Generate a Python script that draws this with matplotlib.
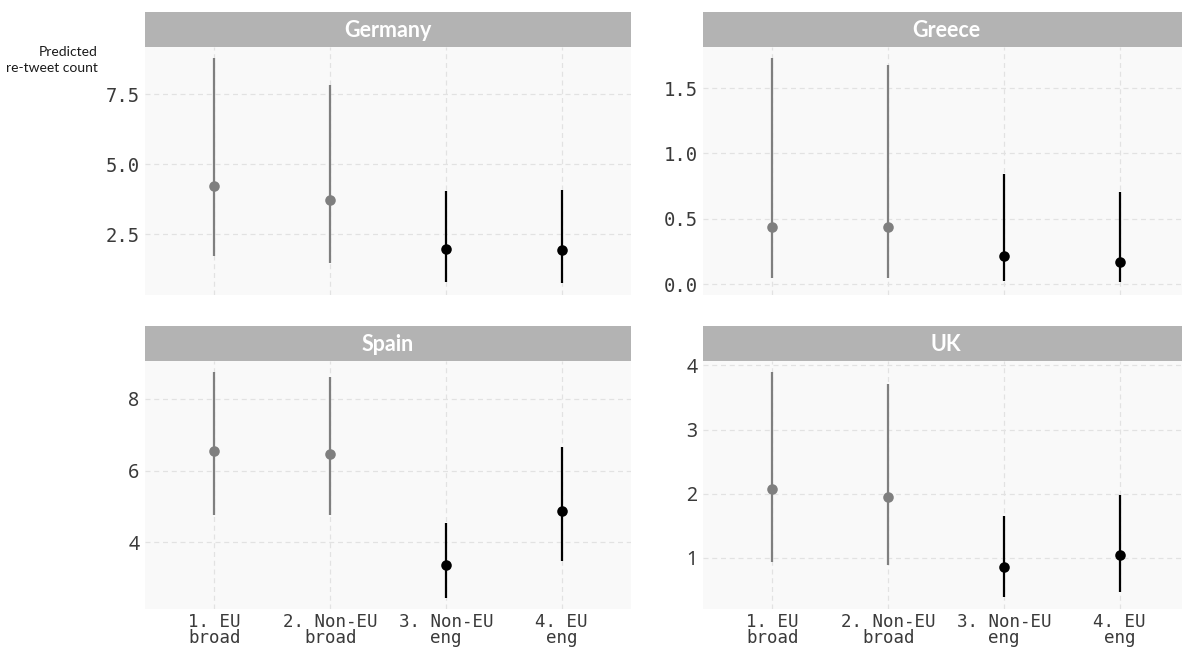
import matplotlib
matplotlib.use("Agg")
import matplotlib.pyplot as plt

# Message categories (x axis)
categories = ["1. EU\nbroad", "2. Non-EU\nbroad", "3. Non-EU\neng", "4. EU\neng"]
cat_colors = ["#7f7f7f", "#7f7f7f", "#000000", "#000000"]

# Predicted re-tweet counts with confidence intervals per country
germany_est = [4.22, 3.71, 1.95, 1.92]
germany_lo = [1.72, 1.47, 0.78, 0.75]
germany_hi = [8.79, 7.82, 4.05, 4.07]

greece_est = [0.436, 0.436, 0.211, 0.165]
greece_lo = [0.046, 0.048, 0.020, 0.012]
greece_hi = [1.729, 1.673, 0.839, 0.704]

spain_est = [6.54, 6.47, 3.36, 4.88]
spain_lo = [4.77, 4.77, 2.45, 3.46]
spain_hi = [8.75, 8.61, 4.53, 6.65]

uk_est = [2.08, 1.95, 0.855, 1.04]
uk_lo = [0.93, 0.88, 0.387, 0.47]
uk_hi = [3.90, 3.71, 1.644, 1.98]

# Axis ticks per panel
germany_ticks = [2.5, 5.0, 7.5]
greece_ticks = [0.0, 0.5, 1.0, 1.5]
spain_ticks = [4, 6, 8]
uk_ticks = [1, 2, 3, 4]

W, H = 1182, 649
fig = plt.figure(figsize=(W / 100, H / 100), dpi=100)
fig.patch.set_facecolor("white")

MONO = "DejaVu Sans Mono"
SANS = "Noto Sans"


def px_axes(x0, y0, x1, y1):
    return fig.add_axes([x0 / W, 1 - y1 / H, (x1 - x0) / W, (y1 - y0) / H])


panels = [
    ("Germany", germany_est, germany_lo, germany_hi, germany_ticks, (0.32, 9.19), "{:.1f}", MONO, 13.6, 145, 631, 47, 295, False),
    ("Greece", greece_est, greece_lo, greece_hi, greece_ticks, (-0.084, 1.814), "{:.1f}", MONO, 13.6, 703, 1189, 47, 295, False),
    ("Spain", spain_est, spain_lo, spain_hi, spain_ticks, (2.13, 9.06), "{:d}", SANS, 14, 145, 631, 361, 609, True),
    ("UK", uk_est, uk_lo, uk_hi, uk_ticks, (0.20, 4.07), "{:d}", SANS, 14, 703, 1189, 361, 609, True),
]

xs = list(range(1, len(categories) + 1))

for (name, est, lo, hi, ticks, ylim, fmt, tfont, tsize,
     x0, x1, y0, y1, xlab) in panels:
    ax = px_axes(x0, y0, x1, y1)
    ax.set_facecolor("#f9f9f9")
    for s in ax.spines.values():
        s.set_visible(False)
    ax.set_xlim(0.4, 4.6)
    ax.set_ylim(*ylim)
    ax.set_axisbelow(True)
    ax.grid(True, color="#e2e2e2", linestyle=(0, (4, 3)), linewidth=0.9)
    ax.set_xticks(xs)
    ax.set_yticks(ticks)
    ax.set_yticklabels([fmt.format(t) for t in ticks], fontfamily=tfont,
                       fontsize=tsize, color="#3a3a3a")
    if xlab:
        ax.set_xticklabels(categories, fontfamily=MONO, fontsize=12.6,
                           color="#3a3a3a", linespacing=0.88)
    else:
        ax.set_xticklabels([])
    ax.tick_params(axis="y", length=0, pad=4)
    ax.tick_params(axis="x", length=0, pad=3)

    for x, e, l, h, c in zip(xs, est, lo, hi, cat_colors):
        ax.vlines(x, l, h, color=c, linewidth=1.6, zorder=3)
        ax.plot([x], [e], "o", color=c, markersize=7.6, zorder=4,
                markeredgewidth=0)

    # facet strip
    sax = px_axes(x0, y0 - 35, x1, y0)
    sax.set_facecolor("#b3b3b3")
    sax.set_xticks([])
    sax.set_yticks([])
    for s in sax.spines.values():
        s.set_visible(False)
    sax.text(0.5, 0.46, name, transform=sax.transAxes, ha="center",
             va="center", color="white", fontsize=15.5, fontweight="bold",
             fontfamily="Lato")

fig.text(98 / W, 1 - 60 / H, "Predicted\nre-tweet count", ha="right",
         va="center", fontsize=10, fontfamily="Lato", color="#1a1a1a",
         linespacing=1.35)

fig.savefig("out.png", dpi=100, facecolor="white")
